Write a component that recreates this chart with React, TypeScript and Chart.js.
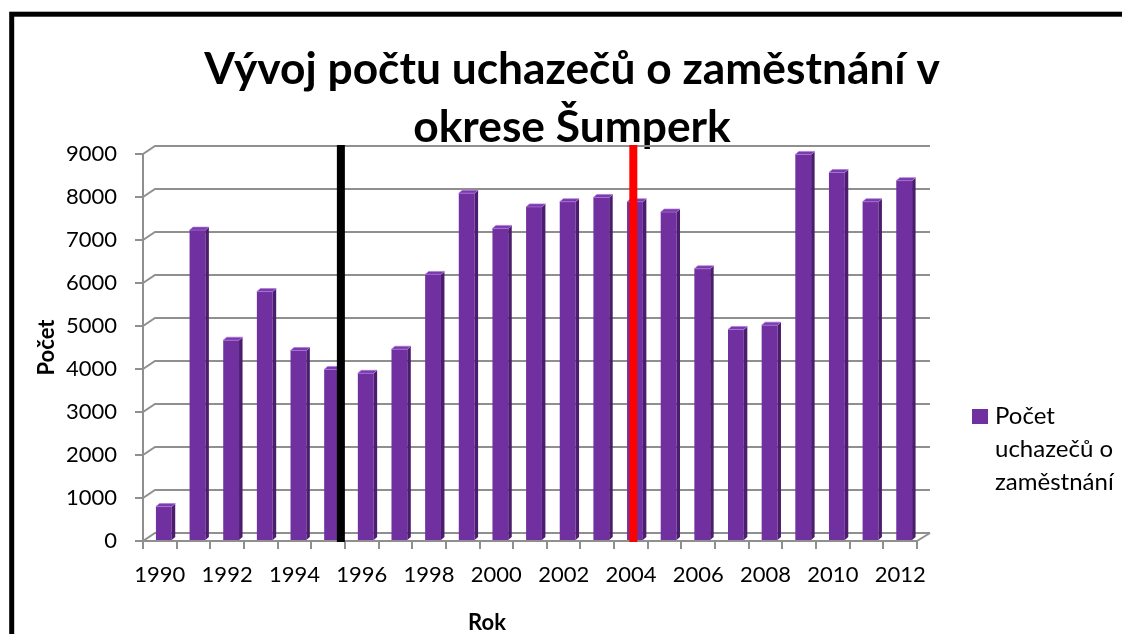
import React, { useEffect, useRef } from 'react';
import { Chart, registerables } from 'chart.js';

Chart.register(...registerables);

// ---- data ----
const years = ['1990', '1991', '1992', '1993', '1994', '1995', '1996', '1997', '1998', '1999', '2000', '2001', '2002', '2003', '2004', '2005', '2006', '2007', '2008', '2009', '2010', '2011', '2012'];
const applicants = [800, 7230, 4670, 5800, 4430, 3990, 3900, 4460, 6200, 8090, 7270, 7770, 7890, 7990, 7890, 7650, 6330, 4920, 5020, 8990, 8570, 7890, 8380];
const yMin = 0;
const yMax = 9000;
const yStep = 1000;
const titleLines = ['Vývoj počtu uchazečů o zaměstnání v', 'okrese Šumperk'];
const yAxisTitle = 'Počet';
const xAxisTitle = 'Rok';
const seriesName = 'Počet uchazečů o zaměstnání';
const legendLines = ['Počet', 'uchazečů o', 'zaměstnání'];
const markerYears = [1995.38, 2004.07];
const markerColors = ['#000000', '#ff0000'];

// ---- style ----
const FONT = 'Lato';
const PURPLE = '#7030a0';
const PURPLE_SIDE = '#4c1d6f';
const PURPLE_TOP = '#7b39ad';
const GRID = '#8f8f8f';
const WALL_DX_L = 12;
const WALL_DX_R = 13;
const WALL_DY = -8;
const BAR_DX = 3.5;
const BAR_DY = -3;
const BAR_SHIFT = 4;
const TITLE_SIZE = 44.3;

const excel3d = {
  id: 'excel3d',
  beforeDraw(chart: any) {
    const { ctx } = chart;
    ctx.save();
    ctx.fillStyle = '#ffffff';
    ctx.fillRect(0, 0, chart.width, chart.height);
    ctx.strokeStyle = '#000000';
    ctx.lineWidth = 5;
    ctx.strokeRect(11.7, 14.2, chart.width + 20, chart.height + 20);
    ctx.restore();
  },
  beforeDatasetsDraw(chart: any) {
    const { ctx, chartArea: a } = chart;
    const ys = chart.scales.y;
    ctx.save();
    ctx.strokeStyle = GRID;
    ctx.lineWidth = 2;
    ys.ticks.forEach((t: any) => {
      const py = ys.getPixelForValue(t.value);
      ctx.beginPath();
      ctx.moveTo(a.left, py);
      ctx.lineTo(a.left + WALL_DX_L, py + WALL_DY);
      ctx.lineTo(a.right + WALL_DX_R, py + WALL_DY);
      ctx.stroke();
    });
    ctx.beginPath();
    ctx.moveTo(a.right, a.bottom);
    ctx.lineTo(a.right + WALL_DX_R, a.bottom + WALL_DY);
    ctx.stroke();
    ctx.restore();
    ctx.save();
    ctx.translate(BAR_SHIFT, 0);
  },
  afterDatasetsDraw(chart: any) {
    const { ctx, chartArea: a } = chart;
    const meta = chart.getDatasetMeta(0);
    meta.data.forEach((bar: any) => {
      const { x, y, width, base } = bar.getProps(['x', 'y', 'width', 'base'], true);
      const l = x - width / 2;
      const r = x + width / 2;
      // side
      ctx.fillStyle = PURPLE_SIDE;
      ctx.beginPath();
      ctx.moveTo(r, y);
      ctx.lineTo(r + BAR_DX, y + BAR_DY);
      ctx.lineTo(r + BAR_DX, base + BAR_DY);
      ctx.lineTo(r, base);
      ctx.closePath();
      ctx.fill();
      // top
      ctx.fillStyle = PURPLE_TOP;
      ctx.beginPath();
      ctx.moveTo(l, y);
      ctx.lineTo(l + BAR_DX, y + BAR_DY);
      ctx.lineTo(r + BAR_DX, y + BAR_DY);
      ctx.lineTo(r, y);
      ctx.closePath();
      ctx.fill();
      ctx.strokeStyle = 'rgba(170,120,215,0.7)';
      ctx.lineWidth = 1;
      ctx.stroke();
    });
    ctx.restore();

    // vertical marker lines
    const xs = chart.scales.x;
    const ys = chart.scales.y;
    const top = ys.getPixelForValue(yMax) - 9;
    markerYears.forEach((yr, i) => {
      const px = xs.getPixelForValue(yr - Number(years[0]));
      ctx.save();
      ctx.strokeStyle = markerColors[i];
      ctx.lineWidth = 8;
      ctx.beginPath();
      ctx.moveTo(px, top);
      ctx.lineTo(px, a.bottom + 1);
      ctx.stroke();
      ctx.restore();
    });

    // legend
    ctx.save();
    ctx.fillStyle = PURPLE;
    ctx.fillRect(972, 409, 16, 15);
    ctx.fillStyle = '#000000';
    ctx.font = `24px ${FONT}`;
    ctx.textAlign = 'left';
    ctx.textBaseline = 'alphabetic';
    legendLines.forEach((t, i) => ctx.fillText(t, 995, 424 + i * 33));
    // x axis title
    ctx.font = `bold 22px ${FONT}`;
    ctx.textAlign = 'center';
    ctx.fillText(xAxisTitle, 487, 630);
    ctx.restore();
  },
};

export default function App() {
  const ref = useRef<HTMLCanvasElement | null>(null);
  useEffect(() => {
    if (!ref.current) return;
    const chart = new Chart(ref.current, {
      type: 'bar',
      data: {
        labels: years,
        datasets: [
          {
            label: seriesName,
            data: applicants,
            backgroundColor: PURPLE,
            borderWidth: 0,
            barPercentage: 0.47,
            categoryPercentage: 1,
          },
        ],
      },
      options: {
        responsive: false,
        animation: false,
        layout: { padding: { left: 22, right: 0, top: 0, bottom: 0 } },
        plugins: {
          legend: { display: false },
          tooltip: { enabled: false },
          title: {
            display: true,
            text: titleLines,
            color: '#000000',
            font: { family: FONT, size: TITLE_SIZE, weight: 'bold', lineHeight: 58 / TITLE_SIZE },
            padding: { top: 40.4, bottom: -2.4 },
          },
        },
        scales: {
          x: {
            grid: { drawOnChartArea: false, drawTicks: true, tickLength: 8, color: GRID, lineWidth: 2 },
            border: { display: true, color: GRID, width: 2 },
            ticks: {
              autoSkip: false,
              maxRotation: 0,
              minRotation: 0,
              padding: 12.3,
              color: '#000000',
              font: { family: FONT, size: 22 },
              callback: (_v: any, i: number) => (i % 2 === 0 ? years[i] : ''),
            },
            afterFit: (s: any) => {
              s.height = 93;
            },
          },
          y: {
            min: yMin,
            max: yMax,
            grid: { drawOnChartArea: false, drawTicks: true, tickLength: 8, color: GRID, lineWidth: 2 },
            border: { display: true, color: GRID, width: 2 },
            ticks: {
              stepSize: yStep,
              padding: 18,
              color: '#000000',
              font: { family: FONT, size: 22 },
              callback: (v: any) => String(v),
            },
            title: {
              display: true,
              text: yAxisTitle,
              color: '#000000',
              font: { family: FONT, size: 22, weight: 'bold' },
              padding: { top: 11.3, bottom: 0 },
            },
            afterFit: (s: any) => {
              s.width = 121;
            },
          },
          legendSpace: {
            type: 'linear',
            position: 'right',
            display: true,
            grid: { display: false, drawTicks: false },
            border: { display: false },
            ticks: { display: false },
            afterFit: (s: any) => {
              s.width = 205;
            },
          },
        },
      } as any,
      plugins: [excel3d],
    });
    return () => chart.destroy();
  }, []);
  return (
    <div style={{ position: 'fixed', left: 0, top: 0, width: 1122, height: 634 }}>
      <canvas ref={ref} width={1122} height={634} style={{ display: 'block' }} />
    </div>
  );
}
